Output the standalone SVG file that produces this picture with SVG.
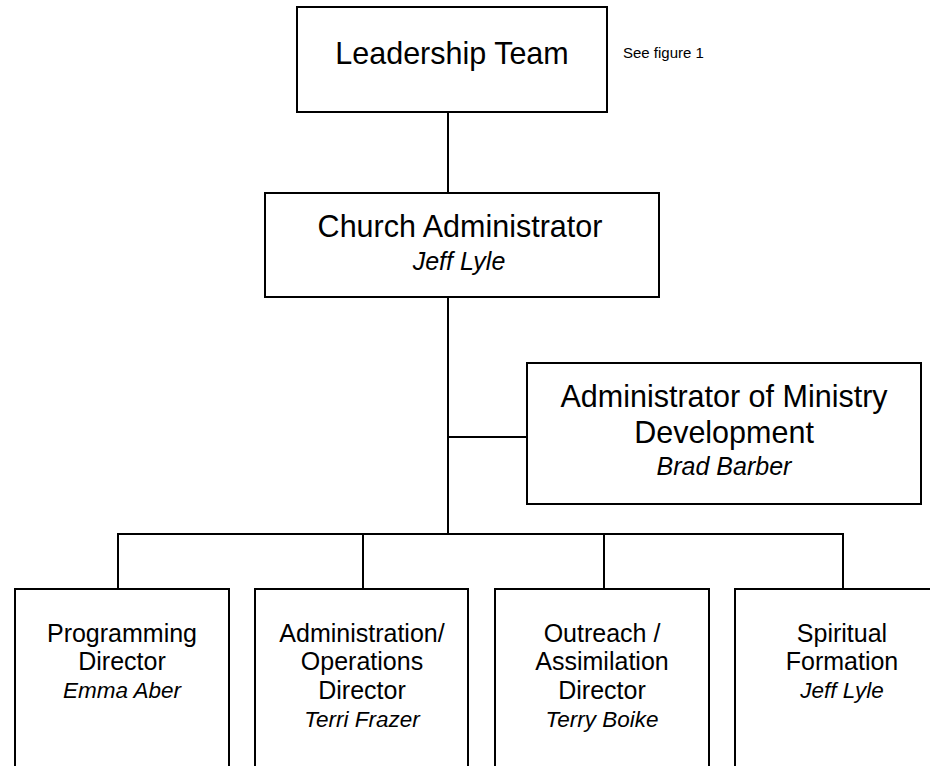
<svg xmlns="http://www.w3.org/2000/svg" width="930" height="766" viewBox="0 0 930 766">
<style>
.box{fill:#fff;stroke:#000;stroke-width:2}
.ln{fill:none;stroke:#000;stroke-width:2}
text{font-family:"Liberation Sans",Arial,sans-serif;fill:#000;text-anchor:middle}
.big{font-size:30.5px}
.mid{font-size:25px}
.nm{font-size:25px;font-style:italic}
.nm2{font-size:22.5px;font-style:italic}
.note{font-size:15px;text-anchor:start}
</style>
<rect width="930" height="766" fill="#fff"/>
<g id="connectors">
<path class="ln" d="M448 112V193"/>
<path class="ln" d="M448 297V534"/>
<path class="ln" d="M448 437H527"/>
<path class="ln" d="M118 589V534H843V589"/>
<path class="ln" d="M363 534V589"/>
<path class="ln" d="M604 534V589"/>
</g>
<g id="leadership">
<rect class="box" x="297" y="7" width="310" height="105"/>
<text class="big" x="452" y="64">Leadership Team</text>
</g>
<g id="note">
<text class="note" x="623" y="58">See figure 1</text>
</g>
<g id="church-admin">
<rect class="box" x="265" y="193" width="394" height="104"/>
<text class="big" x="460" y="237">Church Administrator</text>
<text class="nm" x="459" y="270">Jeff Lyle</text>
</g>
<g id="ministry-dev">
<rect class="box" x="527" y="363" width="394" height="141"/>
<text class="big" x="724" y="407">Administrator of Ministry</text>
<text class="big" x="724" y="443">Development</text>
<text class="nm" x="724" y="475">Brad Barber</text>
</g>
<g id="programming">
<rect class="box" x="15" y="589" width="214" height="200"/>
<text class="mid" x="122" y="642">Programming</text>
<text class="mid" x="122" y="670">Director</text>
<text class="nm2" x="122" y="698">Emma Aber</text>
</g>
<g id="operations">
<rect class="box" x="255" y="589" width="213" height="200"/>
<text class="mid" x="362" y="642">Administration/</text>
<text class="mid" x="362" y="670">Operations</text>
<text class="mid" x="362" y="699">Director</text>
<text class="nm2" x="362" y="727">Terri Frazer</text>
</g>
<g id="outreach">
<rect class="box" x="495" y="589" width="214" height="200"/>
<text class="mid" x="602" y="642">Outreach /</text>
<text class="mid" x="602" y="670">Assimilation</text>
<text class="mid" x="602" y="699">Director</text>
<text class="nm2" x="602" y="727">Terry Boike</text>
</g>
<g id="spiritual">
<rect class="box" x="735" y="589" width="214" height="200"/>
<text class="mid" x="842" y="642">Spiritual</text>
<text class="mid" x="842" y="670">Formation</text>
<text class="nm2" x="842" y="698">Jeff Lyle</text>
</g>
</svg>
